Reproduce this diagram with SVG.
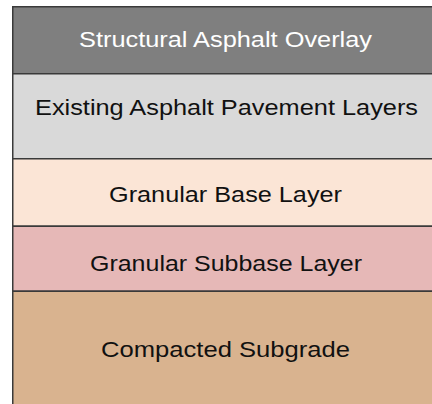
<svg xmlns="http://www.w3.org/2000/svg" width="432" height="404" viewBox="0 0 432 404">
  <style>
    .layer { stroke: #3a3a3a; stroke-width: 1.5; }
    .label { font-family: "Liberation Sans", Arial, sans-serif; font-size: 22px; text-anchor: middle; fill: #111111; }
    .light { fill: #ffffff; }
  </style>
  <rect x="0" y="0" width="432" height="404" fill="#ffffff"/>
  <!-- pavement layers, top to bottom -->
  <g id="overlay">
    <rect class="layer" x="12.75" y="6.75" width="430" height="67" fill="#7f7f7f"/>
    <text class="label light" x="225.5" y="47" textLength="293" lengthAdjust="spacingAndGlyphs">Structural Asphalt Overlay</text>
  </g>
  <g id="existing">
    <rect class="layer" x="12.75" y="73.75" width="430" height="85" fill="#d9d9d9"/>
    <text class="label" x="226.5" y="115" textLength="383" lengthAdjust="spacingAndGlyphs">Existing Asphalt Pavement Layers</text>
  </g>
  <g id="base">
    <rect class="layer" x="12.75" y="158.75" width="430" height="67.5" fill="#fbe5d6"/>
    <text class="label" x="225.5" y="202" textLength="233" lengthAdjust="spacingAndGlyphs">Granular Base Layer</text>
  </g>
  <g id="subbase">
    <rect class="layer" x="12.75" y="226.25" width="430" height="65" fill="#e6b8b7"/>
    <text class="label" x="226" y="271" textLength="272" lengthAdjust="spacingAndGlyphs">Granular Subbase Layer</text>
  </g>
  <g id="subgrade">
    <rect class="layer" x="12.75" y="291.25" width="430" height="120" fill="#d9b38f"/>
    <text class="label" x="225.5" y="357" textLength="249" lengthAdjust="spacingAndGlyphs">Compacted Subgrade</text>
  </g>
  <g id="connectors"/>
</svg>
